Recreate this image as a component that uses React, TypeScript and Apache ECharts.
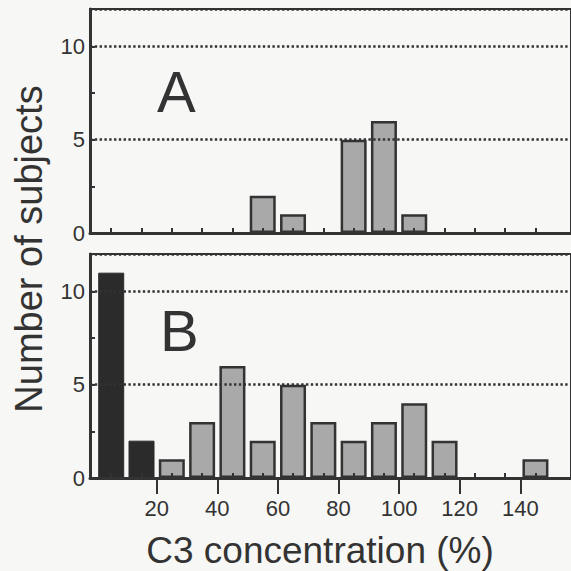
import React, { useEffect, useRef } from "react";
import * as echarts from "echarts";

// Bin centres (C3 concentration, %), bin width 10
const binCentersA = [55, 65, 85, 95, 105];
const countsA = [2, 1, 5, 6, 1];
const binCentersB = [5, 15, 25, 35, 45, 55, 65, 75, 85, 95, 105, 115, 145];
const countsB = [11, 2, 1, 3, 6, 2, 5, 3, 2, 3, 4, 2, 1];
const xTickLabels = [20, 40, 60, 80, 100, 120, 140];
const binTicks = [5, 15, 25, 35, 45, 55, 65, 75, 85, 95, 105, 115, 125, 135, 145];
const yTicks = [0, 5, 10];
const panelLabels = ["A", "B"];
const deficientLimit = 20; // bins below this drawn dark

const INK = "#333333";
const GRAY = "#a9a9a9";
const DARK = "#2b2b2b";
const FONT = "'Liberation Sans', Arial, Helvetica, sans-serif";

export default function App() {
  const ref = useRef<HTMLDivElement>(null);
  useEffect(() => {
    if (!ref.current) return;
    const chart = echarts.init(ref.current, null, { renderer: "svg" });
    const xMin = -2;
    const gridLeft = 90;
    const gridWidth = 500;
    const pxPerUnit = 3.15;
    const xMax = xMin + gridWidth / pxPerUnit;
    const grids = [
      { left: gridLeft, top: 9, width: gridWidth, height: 224 },
      { left: gridLeft, top: 254, width: gridWidth, height: 224 },
    ];
    const mainX = (gi: number, labels: boolean) => ({
      type: "value",
      gridIndex: gi,
      min: xMin,
      max: xMax,
      position: "bottom",
      z: 5,
      axisLine: { show: true, onZero: false, lineStyle: { color: INK, width: 3 } },
      axisTick: {
        show: labels,
        inside: false,
        length: 16,
        lineStyle: { color: INK, width: 2 },
        customValues: xTickLabels,
      },
      axisLabel: {
        show: labels,
        customValues: xTickLabels,
        color: INK,
        fontSize: 22,
        fontFamily: FONT,
        margin: 19,
      },
      splitLine: { show: false },
    });
    const binX = (gi: number) => ({
      type: "value",
      gridIndex: gi,
      min: xMin,
      max: xMax,
      position: "bottom",
      z: 6,
      axisLine: { show: false, onZero: false },
      axisTick: {
        show: true,
        inside: true,
        length: 5,
        lineStyle: { color: INK, width: 2 },
        customValues: binTicks,
      },
      axisLabel: { show: false, customValues: binTicks },
      splitLine: { show: false },
    });
    const yAx = (gi: number) => ({
      type: "value",
      gridIndex: gi,
      min: 0,
      max: 12,
      interval: 5,
      z: 5,
      axisLine: { show: true, onZero: false, lineStyle: { color: INK, width: 3 } },
      axisTick: { show: true, inside: true, length: 5, lineStyle: { color: INK, width: 2 } },
      minorTick: { show: true, splitNumber: 2, length: 5, lineStyle: { color: INK, width: 2 } },
      axisLabel: {
        color: INK,
        fontSize: 22,
        fontFamily: FONT,
        margin: 5,
        customValues: yTicks,
      },
      splitLine: {
        show: true,
        lineStyle: { color: INK, width: 2.5, type: [2.4, 2.4] },
      },
    });
    const barSeries = (gi: number, xs: number[], ys: number[], name: string) => ({
      type: "bar",
      name,
      xAxisIndex: gi * 2,
      yAxisIndex: gi,
      barWidth: 26,
      z: 3,
      data: xs.map((x, i) => ({
        value: [x, ys[i]],
        itemStyle:
          x < deficientLimit
            ? { color: DARK, borderColor: DARK, borderWidth: 1 }
            : { color: GRAY, borderColor: INK, borderWidth: 2.5 },
      })),
    });
    chart.setOption({
      animation: false,
      backgroundColor: "#f7f7f5",
      textStyle: { fontFamily: FONT },
      grid: grids.map((g) => ({
        ...g,
        show: true,
        borderColor: INK,
        borderWidth: 2,
        backgroundColor: "transparent",
      })),
      xAxis: [mainX(0, false), binX(0), mainX(1, true), binX(1)],
      yAxis: [yAx(0), yAx(1)],
      series: [
        barSeries(0, binCentersA, countsA, "A"),
        barSeries(1, binCentersB, countsB, "B"),
      ],
      graphic: [
        {
          type: "text",
          x: 157,
          y: 91,
          style: {
            text: panelLabels[0],
            fill: INK,
            font: `58px ${FONT}`,
            verticalAlign: "middle",
            align: "left",
          },
        },
        {
          type: "text",
          x: 160,
          y: 330,
          style: {
            text: panelLabels[1],
            fill: INK,
            font: `58px ${FONT}`,
            verticalAlign: "middle",
            align: "left",
          },
        },
        {
          type: "text",
          x: 29,
          y: 249,
          rotation: Math.PI / 2,
          style: {
            text: "Number of subjects",
            fill: INK,
            font: `38px ${FONT}`,
            verticalAlign: "middle",
            align: "center",
          },
        },
        {
          type: "text",
          x: 320,
          y: 550,
          style: {
            text: "C3 concentration (%)",
            fill: INK,
            font: `37px ${FONT}`,
            verticalAlign: "middle",
            align: "center",
          },
        },
      ],
    });
    return () => chart.dispose();
  }, []);
  return (
    <div
      ref={ref}
      style={{ position: "fixed", left: 0, top: 0, width: 571, height: 571 }}
    />
  );
}
